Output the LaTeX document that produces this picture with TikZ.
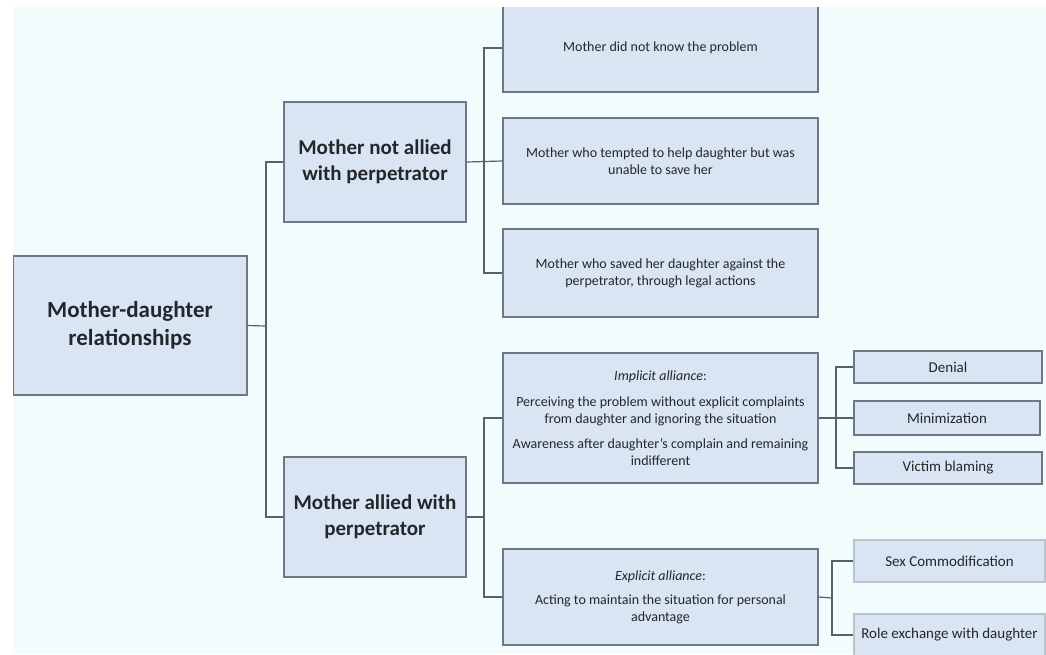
\documentclass[tikz,border=0pt]{standalone}
\usepackage{fontspec}
\setmainfont{Carlito}
\definecolor{bgc}{HTML}{F3FCFD}
\definecolor{boxfill}{HTML}{DAE5F4}
\definecolor{boxline}{HTML}{6C7885}
\definecolor{faintline}{HTML}{B9C4D1}
\definecolor{linkc}{HTML}{56616C}
\definecolor{txt}{HTML}{23272B}
\begin{document}
\begin{tikzpicture}[x=1pt,y=-1pt,
  box/.style={draw=boxline, line width=1.3pt, fill=boxfill, inner sep=0pt, align=center, text=txt},
  faintbox/.style={box, draw=faintline},
  bigtext/.style={font=\bfseries\fontsize{23}{28}\selectfont},
  midtext/.style={font=\bfseries\fontsize{21}{26}\selectfont},
  leaftext/.style={font=\fontsize{14}{17}\selectfont},
  smalltext/.style={font=\fontsize{15}{17}\selectfont},
  link/.style={draw=linkc, line width=1.2pt}]
\useasboundingbox (0,0) rectangle (1046,654);
\fill[bgc] (13,7) rectangle (1046,654);
\begin{scope}
\clip (13,7) rectangle (1046,654);
% nodes
\node[box, bigtext, minimum width=234pt, minimum height=139pt] (root) at (130,325.5) {Mother-daughter\\relationships};
\node[box, midtext, minimum width=182pt, minimum height=120pt] (na) at (375,162) {Mother not allied\\with perpetrator};
\node[box, midtext, minimum width=182pt, minimum height=120pt] (al) at (375,517) {Mother allied with\\perpetrator};
\node[box, leaftext, minimum width=315pt, minimum height=88pt] (b1) at (660.5,48) {Mother did not know the problem};
\node[box, leaftext, minimum width=315pt, minimum height=86pt] (b2) at (660.5,161) {Mother who tempted to help daughter but was\\unable to save her};
\node[box, leaftext, minimum width=315pt, minimum height=88pt] (b3) at (660.5,273) {Mother who saved her daughter against the\\perpetrator, through legal actions};
\node[box, leaftext, minimum width=315pt, minimum height=130pt] (imp) at (660.5,418) {\textit{Implicit alliance}:\\[9pt]Perceiving the problem without explicit complaints\\from daughter and ignoring the situation\\[8pt]Awareness after daughter's complain and remaining\\indifferent};
\node[box, leaftext, minimum width=315pt, minimum height=96pt] (exp) at (660.5,597) {\textit{Explicit alliance}:\\[7pt]Acting to maintain the situation for personal\\advantage};
\node[box, smalltext, minimum width=188pt, minimum height=32pt] (den) at (948,367) {Denial};
\node[box, smalltext, minimum width=186pt, minimum height=34pt] (min) at (947,418) {Minimization};
\node[box, smalltext, minimum width=188pt, minimum height=32pt] (vic) at (948,468) {Victim blaming};
\node[faintbox, smalltext, minimum width=191pt, minimum height=42pt] (sex) at (949.5,561) {Sex Commodification};
\node[faintbox, smalltext, minimum width=191pt, minimum height=42pt] (role) at (949.5,635) {Role exchange with daughter};
% junctions
\coordinate (j0) at (266,326);
\coordinate (j1) at (484,162);
\coordinate (j2) at (484,517);
\coordinate (j3) at (836,418);
\coordinate (j4) at (832,598);
% connectors
\draw[link] (root.east) -- (j0);
\draw[link] (na.west) -- (j0 |- na.west) -- (j0 |- al.west) -- (al.west);
\draw[link] (na.east) -- (b2.west);
\draw[link] (b1.west) -- (j1 |- b1.west) -- (j1 |- b3.west) -- (b3.west);
\draw[link] (al.east) -- (j2);
\draw[link] (imp.west) -- (j2 |- imp.west) -- (j2 |- exp.west) -- (exp.west);
\draw[link] (imp.east) -- (min.west);
\draw[link] (den.west) -- (j3 |- den.west) -- (j3 |- vic.west) -- (vic.west);
\draw[link] (exp.east) -- (j4);
\draw[link] (sex.west) -- (j4 |- sex.west) -- (j4 |- role.west) -- (role.west);
\end{scope}
\end{tikzpicture}
\end{document}
